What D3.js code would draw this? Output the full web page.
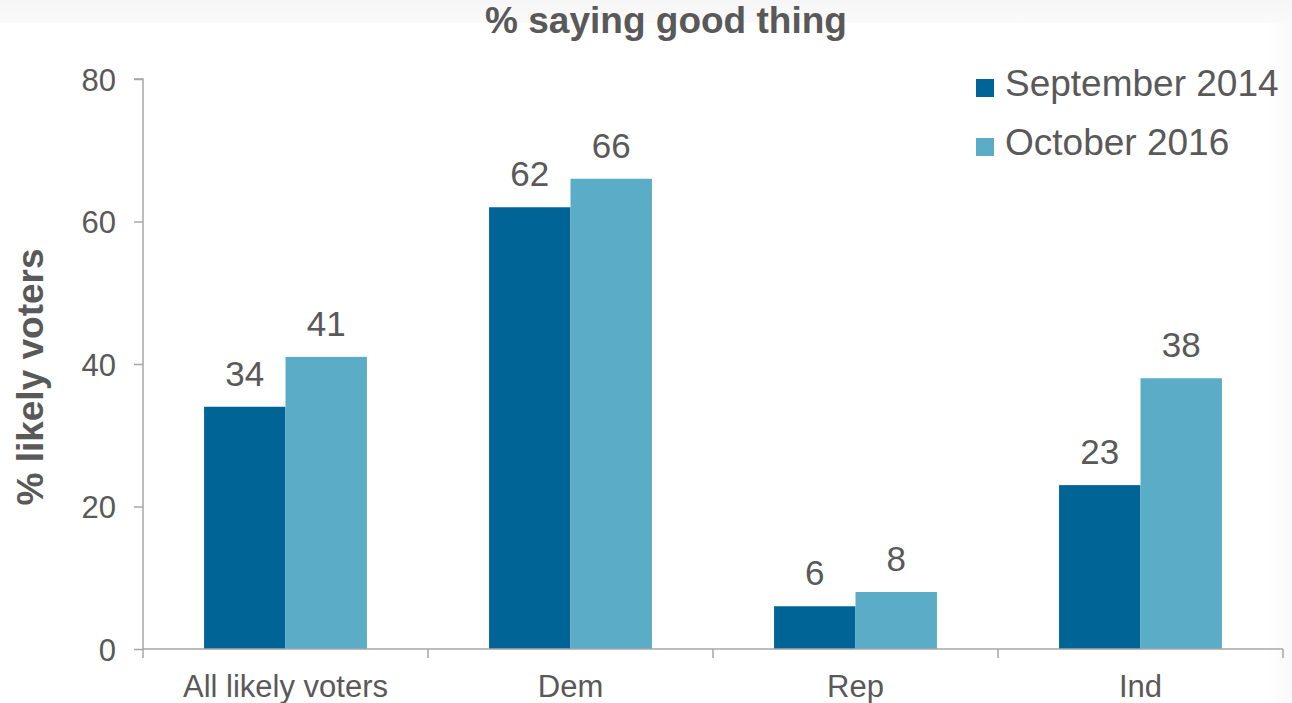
<!DOCTYPE html>
<html><head><meta charset="utf-8">
<script src="https://cdn.jsdelivr.net/npm/d3@7"></script>
<style>
html,body{margin:0;padding:0;background:#fff;}
svg{display:block;font-family:"Liberation Sans",Arial,sans-serif;}
</style></head>
<body>
<svg id="chart" width="1292" height="703"></svg>
<script>
const categories = ["All likely voters", "Dem", "Rep", "Ind"];
const seriesNames = ["September 2014", "October 2016"];
const sep2014 = [34, 62, 6, 23];
const oct2016 = [41, 66, 8, 38];
const yTicks = [0, 20, 40, 60, 80];
const colors = ["#006496", "#5badc7"];
const textColor = "#595959";
const axisColor = "#a6a6a6";

(function () {
const svg = d3.select("#chart");
const defs = svg.append("defs");
const g1 = defs.append("linearGradient").attr("id","topg").attr("x1",0).attr("y1",0).attr("x2",0).attr("y2",1);
g1.append("stop").attr("offset","0%").attr("stop-color","#f6f6f6");
g1.append("stop").attr("offset","100%").attr("stop-color","#fafafa");
svg.append("rect").attr("x",0).attr("y",0).attr("width",1292).attr("height",23).attr("fill","url(#topg)");
const g2 = defs.append("linearGradient").attr("id","rg").attr("x1",0).attr("y1",0).attr("x2",1).attr("y2",0);
g2.append("stop").attr("offset","0%").attr("stop-color","#ffffff");
g2.append("stop").attr("offset","100%").attr("stop-color","#f9f9f9");
svg.append("rect").attr("x",1266).attr("y",23).attr("width",26).attr("height",680).attr("fill","url(#rg)");

const mLeft = 143, mRight = 1283, mTop = 79, mBottom = 649;
const x = d3.scaleBand().domain(categories).range([mLeft, mRight]).padding(0);
const xi = d3.scaleBand().domain(seriesNames).range([0, x.bandwidth()]).paddingInner(0).paddingOuter(0.75);
const y = d3.scaleLinear().domain([0, 80]).range([mBottom, mTop]);

const data = categories.map((c, i) => ({cat: c, vals: [sep2014[i], oct2016[i]]}));

const groups = svg.append("g").selectAll("g").data(data).join("g")
  .attr("transform", d => `translate(${x(d.cat)},0)`);
groups.selectAll("rect").data(d => d.vals.map((v, k) => ({v, k})))
  .join("rect")
  .attr("x", d => xi(seriesNames[d.k]))
  .attr("y", d => y(d.v))
  .attr("width", xi.bandwidth())
  .attr("height", d => y(0) - y(d.v))
  .attr("fill", d => colors[d.k]);
groups.selectAll("text").data(d => d.vals.map((v, k) => ({v, k})))
  .join("text")
  .attr("x", d => xi(seriesNames[d.k]) + xi.bandwidth() / 2)
  .attr("y", d => y(d.v) - 21)
  .attr("text-anchor", "middle")
  .attr("font-size", 35)
  .attr("fill", textColor)
  .text(d => d.v);

const yAxis = svg.append("g").attr("transform", `translate(${mLeft},0)`)
  .call(d3.axisLeft(y).tickValues(yTicks).tickSize(9).tickPadding(18).tickFormat(d3.format("d")));
yAxis.selectAll("text").attr("font-size", 31).attr("fill", textColor).attr("font-family", "Liberation Sans, Arial, sans-serif").attr("dy", "0.36em");
yAxis.selectAll("line").attr("stroke", axisColor).attr("stroke-width", 1.5);
yAxis.select(".domain").attr("stroke", axisColor).attr("stroke-width", 1.5).attr("d", `M-9,${mTop}H0V${mBottom}`);

const xAxis = svg.append("g").attr("transform", `translate(0,${mBottom})`);
xAxis.append("line").attr("x1", mLeft).attr("x2", mRight).attr("y1", 0).attr("y2", 0)
  .attr("stroke", axisColor).attr("stroke-width", 1.5);
const bounds = categories.map(c => x(c)).concat([x(categories[categories.length - 1]) + x.bandwidth()]);
xAxis.selectAll("line.tk").data(bounds).join("line").attr("class", "tk")
  .attr("x1", d => d).attr("x2", d => d).attr("y1", 0).attr("y2", 9)
  .attr("stroke", axisColor).attr("stroke-width", 1.5);
xAxis.selectAll("text").data(categories).join("text")
  .attr("x", d => x(d) + x.bandwidth() / 2)
  .attr("y", 48)
  .attr("text-anchor", "middle")
  .attr("font-size", 31)
  .attr("fill", textColor)
  .text(d => d);

svg.append("text").attr("x", 666).attr("y", 33).attr("text-anchor", "middle")
  .attr("font-size", 37).attr("font-weight", "bold").attr("fill", textColor)
  .text("% saying good thing");

svg.append("text").attr("transform", "translate(43,377) rotate(-90)")
  .attr("text-anchor", "middle").attr("font-size", 37).attr("font-weight", "bold")
  .attr("fill", textColor).text("% likely voters");

const legend = svg.append("g");
const lg = legend.selectAll("g").data(seriesNames).join("g")
  .attr("transform", (d, i) => `translate(976,${79 + i * 59})`);
lg.append("rect").attr("width", 18).attr("height", 18).attr("fill", (d, i) => colors[i]);
lg.append("text").attr("x", 29).attr("y", 17).attr("font-size", 37).attr("fill", textColor).text(d => d);
})();
</script>
</body></html>
